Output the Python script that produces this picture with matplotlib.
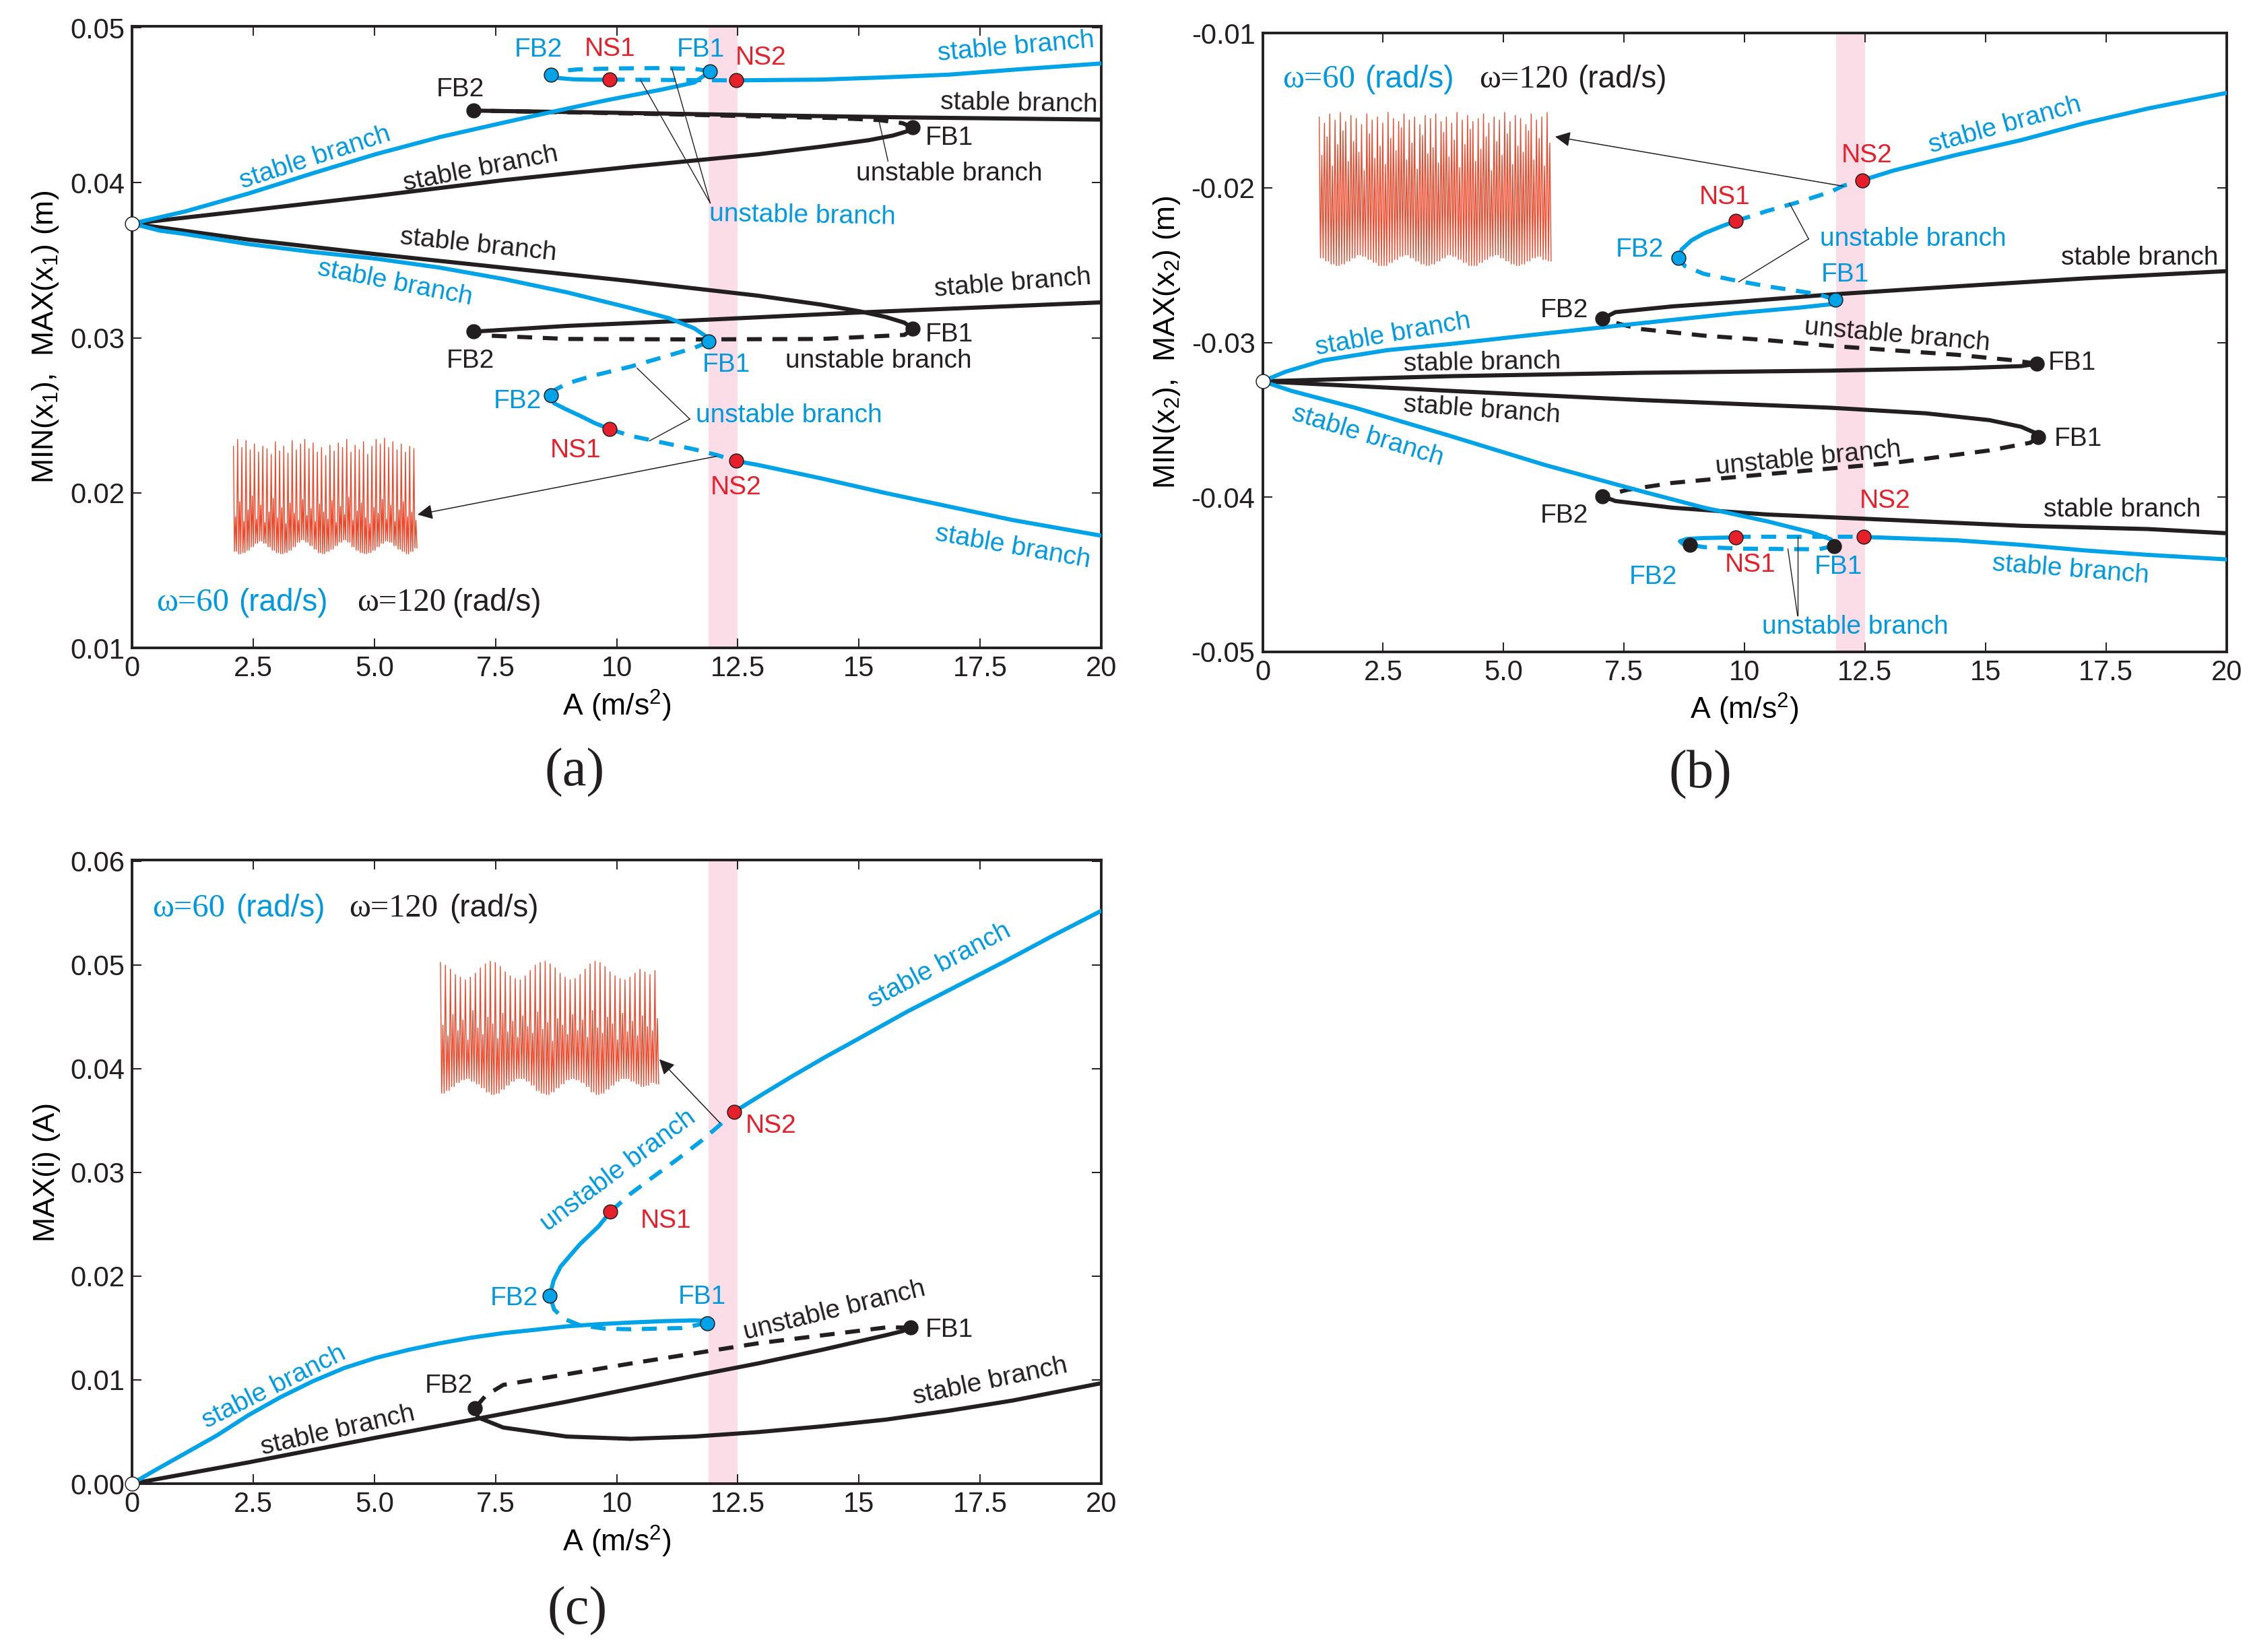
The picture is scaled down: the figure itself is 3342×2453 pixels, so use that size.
import numpy as np
import matplotlib
matplotlib.use('Agg')
import matplotlib.pyplot as plt

plt.rcParams['font.family'] = ['Liberation Sans', 'DejaVu Sans']
plt.rcParams['mathtext.default'] = 'regular'

BLUE = '#00a3e8'
BLUE_T = '#0098de'
RED = '#e6202b'
BLACK = '#231f20'
PINK = '#fbdde8'
SIG = '#f0482a'
SERIF = ['Liberation Serif', 'DejaVu Serif']

# ---------------- common ----------------
x_ticks = [0, 2.5, 5, 7.5, 10, 12.5, 15, 17.5, 20]
x_ticklabels = ['0', '2.5', '5.0', '7.5', '10', '12.5', '15', '17.5', '20']
band = [11.9, 12.5]

# ---------------- panel (a): MIN/MAX x1 ----------------
a_start = [0.0, 0.03737]
# omega = 60 (blue), upper (max)
a_bu_s1_A = [0, 1.09, 2.4, 3.72, 5.03, 6.35, 7.66, 8.58, 9.76, 10.95, 11.6, 11.93]
a_bu_s1_y = [0.03737, 0.03815, 0.03931, 0.04061, 0.04185, 0.04295, 0.04388, 0.04452, 0.04531, 0.04603, 0.04647, 0.04719]
a_bu_u1_A = [11.93, 11.6, 10.8, 10.0, 9.2, 8.8, 8.65]
a_bu_u1_y = [0.04719, 0.04736, 0.0474, 0.04738, 0.04732, 0.0472, 0.04698]
a_bu_s2_A = [8.65, 8.8, 9.1, 9.5, 9.86]
a_bu_s2_y = [0.04698, 0.04676, 0.04668, 0.04665, 0.04666]
a_bu_u2_A = [9.86, 12.46]
a_bu_u2_y = [0.04666, 0.04661]
a_bu_s3_A = [12.46, 14.23, 15.5, 16.86, 18.2, 20]
a_bu_s3_y = [0.04661, 0.04666, 0.0468, 0.04698, 0.0473, 0.0477]
# omega = 60 (blue), lower (min)
a_bl_s1_A = [0, 0.57, 1.09, 2.4, 3.72, 5.03, 6.35, 7.66, 8.97, 10.29, 11.08, 11.6, 11.87, 11.9]
a_bl_s1_y = [0.03737, 0.03692, 0.0367, 0.03605, 0.03554, 0.03511, 0.03453, 0.0338, 0.03294, 0.03192, 0.03127, 0.03062, 0.03004, 0.02975]
a_bl_u1_A = [11.9, 11.6, 10.95, 10.29, 9.5, 8.97, 8.7, 8.65]
a_bl_u1_y = [0.02975, 0.02935, 0.02875, 0.02815, 0.02755, 0.02705, 0.0266, 0.02628]
a_bl_s2_A = [8.65, 8.71, 8.95, 9.24, 9.55, 9.86]
a_bl_s2_y = [0.02628, 0.02578, 0.0254, 0.02498, 0.0245, 0.02411]
a_bl_u2_A = [9.86, 10.29, 10.95, 11.6, 12.06, 12.46]
a_bl_u2_y = [0.02411, 0.02368, 0.02324, 0.02281, 0.02245, 0.02206]
a_bl_s3_A = [12.46, 12.92, 14.23, 15.55, 16.86, 18.17, 20]
a_bl_s3_y = [0.02206, 0.0218, 0.02093, 0.01999, 0.01912, 0.01825, 0.01724]
# omega = 120 (black), upper
a_ku_s1_A = [0, 2.4, 5.03, 7.66, 10.29, 12.92, 14.23, 15.2, 15.7, 16.0, 16.11]
a_ku_s1_y = [0.03737, 0.03822, 0.03916, 0.04017, 0.04104, 0.04184, 0.04234, 0.04275, 0.04305, 0.04333, 0.04357]
a_ku_u1_A = [16.11, 15.9, 15.41, 14.5, 13.0, 11.0, 9.0, 7.04]
a_ku_u1_y = [0.04357, 0.04385, 0.04405, 0.04418, 0.04428, 0.04443, 0.04455, 0.04466]
a_ku_s2_A = [7.04, 10, 13, 16, 20]
a_ku_s2_y = [0.04466, 0.04452, 0.04436, 0.04422, 0.04408]
# omega = 120 (black), lower
a_kl_s1_A = [0, 2.4, 5.03, 7.66, 10.29, 12.92, 14.23, 15.02, 15.55, 15.94, 16.11]
a_kl_s1_y = [0.03737, 0.03634, 0.0354, 0.03453, 0.03366, 0.03272, 0.03214, 0.03171, 0.03135, 0.03098, 0.03059]
a_kl_u1_A = [16.11, 15.94, 14.23, 11.6, 8.97, 7.4, 7.04]
a_kl_u1_y = [0.03059, 0.03019, 0.02993, 0.0299, 0.02993, 0.03014, 0.0304]
a_kl_s2_A = [7.04, 8.97, 11.6, 15.02, 20]
a_kl_s2_y = [0.0304, 0.03077, 0.03113, 0.03164, 0.03229]
# bifurcation points (A, y)
a_fb_blue = [(11.93, 0.04719), (8.65, 0.04698), (11.9, 0.02975), (8.65, 0.02628)]
a_fb_black = [(16.11, 0.04357), (7.04, 0.04466), (16.11, 0.03059), (7.04, 0.0304)]
a_ns = [(9.86, 0.04666), (12.46, 0.04661), (9.86, 0.02411), (12.46, 0.02206)]

# ---------------- panel (b): MIN/MAX x2 ----------------
b_start = [0.0, -0.03251]
b_bu_s1_A = [0, 0.47, 1.26, 2.58, 3.89, 5.87, 7.84, 9.82, 11.13, 11.79, 11.88]
b_bu_s1_y = [-0.03251, -0.0319, -0.03116, -0.0305, -0.0301, -0.02942, -0.02876, -0.02811, -0.02775, -0.02753, -0.02724]
b_bu_u1_A = [11.88, 11.53, 10.47, 9.82, 9.16, 8.76, 8.63]
b_bu_u1_y = [-0.02724, -0.02688, -0.02637, -0.026, -0.02557, -0.02506, -0.02452]
b_bu_s2_A = [8.63, 8.7, 8.9, 9.16, 9.5, 9.82]
b_bu_s2_y = [-0.02452, -0.02397, -0.0234, -0.02295, -0.02252, -0.02215]
b_bu_u2_A = [9.82, 10.47, 11.13, 11.79, 12.05, 12.45]
b_bu_u2_y = [-0.02215, -0.0215, -0.02092, -0.02026, -0.01987, -0.01951]
b_bu_s3_A = [12.45, 13.1, 14.42, 15.74, 17.05, 18.37, 20]
b_bu_s3_y = [-0.01951, -0.01888, -0.01786, -0.01692, -0.01583, -0.01488, -0.01387]
b_bl_s1_A = [0, 0.6, 1.92, 3.89, 5.87, 7.84, 9.16, 10.47, 11.39, 11.79, 11.86]
b_bl_s1_y = [-0.03251, -0.03313, -0.03422, -0.03604, -0.03793, -0.0396, -0.04068, -0.04156, -0.04228, -0.04272, -0.04316]
b_bl_u1_A = [11.86, 11.53, 10.0, 9.16, 8.87]
b_bl_u1_y = [-0.04316, -0.04337, -0.04333, -0.04323, -0.04308]
b_bl_s2_A = [8.87, 8.72, 8.66, 8.8, 9.16, 9.82]
b_bl_s2_y = [-0.04308, -0.04302, -0.04285, -0.0427, -0.04264, -0.0426]
b_bl_u2_A = [9.82, 12.47]
b_bl_u2_y = [-0.04257, -0.04257]
b_bl_s3_A = [12.47, 13.1, 14.42, 15.74, 17.05, 18.37, 20]
b_bl_s3_y = [-0.04257, -0.04264, -0.04279, -0.04308, -0.04344, -0.04373, -0.04402]
b_ku_s1_A = [0, 3.89, 7.84, 11.79, 14.42, 15.74, 16.07]
b_ku_s1_y = [-0.03251, -0.03218, -0.03196, -0.03182, -0.03167, -0.03153, -0.03138]
b_ku_u1_A = [16.07, 15.6, 14.42, 13.1, 11.79, 10.47, 9.16, 7.84, 7.45, 7.05]
b_ku_u1_y = [-0.03138, -0.03116, -0.0308, -0.03051, -0.03022, -0.02985, -0.02956, -0.02913, -0.02884, -0.02847]
b_ku_s2_A = [7.05, 7.32, 8.5, 9.82, 11.79, 14.42, 17.05, 20]
b_ku_s2_y = [-0.02847, -0.02804, -0.02767, -0.02738, -0.0269, -0.02637, -0.02586, -0.02539]
b_kl_s1_A = [0, 3.89, 7.84, 11.79, 13.76, 15.08, 15.74, 16.0, 16.09]
b_kl_s1_y = [-0.03251, -0.03313, -0.03372, -0.03422, -0.03458, -0.03502, -0.03545, -0.0358, -0.03611]
b_kl_u1_A = [16.09, 15.93, 15.08, 13.1, 10.47, 8.5, 7.58, 7.05]
b_kl_u1_y = [-0.03611, -0.03648, -0.03698, -0.03778, -0.03851, -0.03908, -0.03952, -0.03993]
b_kl_s2_A = [7.05, 7.32, 8.5, 10.47, 13.1, 15.74, 18.37, 20]
b_kl_s2_y = [-0.03993, -0.04025, -0.04068, -0.04112, -0.04148, -0.04185, -0.04206, -0.04233]
b_fb_blue = [(11.88, -0.02724), (8.63, -0.02452)]
b_fb_black = [(16.07, -0.03138), (7.05, -0.02847), (16.09, -0.03611), (7.05, -0.03993),
              (11.86, -0.04316), (8.87, -0.04308)]
b_ns = [(9.82, -0.02215), (12.45, -0.01951), (9.82, -0.0426), (12.47, -0.04257)]

# ---------------- panel (c): MAX(i) ----------------
c_start = [0.0, 0.0]
c_b_s1_A = [0, 0.43, 1.09, 1.75, 2.4, 3.06, 3.72, 4.38, 5.03, 5.69, 6.35, 7.0, 7.66, 8.32, 8.97, 9.63, 10.29, 10.95, 11.6, 11.87]
c_b_s1_y = [0, 0.00118, 0.00291, 0.00465, 0.0066, 0.00833, 0.00985, 0.01115, 0.01212, 0.01288, 0.01353, 0.01407,
            0.01451, 0.01483, 0.01516, 0.01537, 0.01553, 0.01566, 0.01574, 0.0157]
c_b_u1_A = [11.87, 11.34, 10.29, 9.76, 9.24, 8.91, 8.71, 8.62]
c_b_u1_y = [0.01548, 0.015, 0.01488, 0.01494, 0.01527, 0.0159, 0.01678, 0.01813]
c_b_s2_A = [8.62, 8.7, 8.84, 9.24, 9.63, 9.87]
c_b_s2_y = [0.01813, 0.0196, 0.0209, 0.02307, 0.02481, 0.02621]
c_b_u2_A = [9.87, 10.29, 10.75, 11.25, 11.75, 12.1, 12.43]
c_b_u2_y = [0.02621, 0.02795, 0.02955, 0.03125, 0.03305, 0.03445, 0.03585]
c_b_s3_A = [12.43, 13.0, 13.6, 14.3, 15.0, 16.0, 17.0, 18.0, 19.0, 20.0]
c_b_s3_y = [0.03585, 0.0375, 0.0392, 0.0411, 0.0429, 0.0455, 0.0479, 0.0503, 0.0528, 0.0552]
c_k_s1_A = [0, 2.4, 5.03, 7.07, 8.97, 11.6, 12.92, 14.23, 15.55, 15.9, 16.07]
c_k_s1_y = [0, 0.00205, 0.00443, 0.00621, 0.0079, 0.01039, 0.01159, 0.01289, 0.0143, 0.0147, 0.01505]
c_k_u1_A = [16.07, 15.55, 12.92, 10.29, 7.66, 7.3, 7.07]
c_k_u1_y = [0.01505, 0.01505, 0.01353, 0.01158, 0.00952, 0.0085, 0.00725]
c_k_s2_A = [7.07, 7.14, 7.66, 8.97, 10.29, 11.6, 12.92, 14.23, 15.55, 16.86, 18.17, 20]
c_k_s2_y = [0.00725, 0.00638, 0.00541, 0.00454, 0.00432, 0.00454, 0.00497, 0.00552, 0.00617, 0.00703, 0.00801, 0.00968]
c_fb_blue = [(11.87, 0.01548), (8.62, 0.01813)]
c_fb_black = [(16.07, 0.01505), (7.07, 0.00725)]
c_ns = [(9.87, 0.02621), (12.43, 0.03585)]

# ---------------- inset time signals (normalised peaks / troughs) ----------------
sig_a_hi = [0.93, 0.99, 0.92, 0.98, 0.90, 0.95, 0.88, 0.93, 0.91, 0.86, 0.97, 0.89, 0.93, 0.87, 0.98, 0.90, 0.95,
            0.99, 0.91, 0.96, 0.88, 0.92, 0.85, 0.94, 0.89, 0.96, 0.92, 0.99, 0.88, 0.94, 0.90, 0.97, 0.86, 0.93,
            0.99, 0.95, 1.00, 0.92, 0.97, 0.90, 0.95, 0.88, 0.93, 0.91]
sig_a_lo = [0.02, 0.00, 0.01, 0.03, 0.06, 0.09, 0.11, 0.09, 0.06, 0.03, 0.01, 0.00, 0.01, 0.03, 0.06, 0.10, 0.12,
            0.10, 0.07, 0.04, 0.01, 0.00, 0.02, 0.04, 0.07, 0.10, 0.12, 0.10, 0.06, 0.03, 0.01, 0.00, 0.01, 0.03,
            0.06, 0.09, 0.11, 0.10, 0.07, 0.04, 0.02, 0.00, 0.02, 0.05]
sig_a_mid = [0.32, 0.45, 0.28, 0.38, 0.50, 0.30, 0.42, 0.27, 0.36, 0.48, 0.31, 0.40, 0.26, 0.44, 0.35, 0.29, 0.47,
             0.33, 0.39, 0.28, 0.43, 0.36, 0.30, 0.46, 0.27, 0.41, 0.34, 0.49, 0.29, 0.37, 0.44, 0.31, 0.26, 0.40,
             0.35, 0.47, 0.30, 0.42, 0.28, 0.38, 0.45, 0.32, 0.36, 0.29]
sig_b_hi = [0.97, 0.93, 0.99, 0.95, 1.00, 0.94, 0.98, 0.96, 0.92, 0.99, 0.95, 0.97, 0.93, 1.00, 0.96, 0.94, 0.99,
            0.95, 0.97, 0.92, 0.98, 0.96, 0.99, 0.94, 0.97, 0.93, 1.00, 0.95, 0.98, 0.94, 0.96, 0.99, 0.93, 0.97,
            0.95, 1.00, 0.94, 0.98, 0.96, 0.92, 0.99, 0.95, 0.97, 1.00]
sig_b_lo = [0.05, 0.03, 0.01, 0.00, 0.01, 0.03, 0.05, 0.07, 0.06, 0.04, 0.02, 0.00, 0.00, 0.02, 0.04, 0.06, 0.07,
            0.05, 0.03, 0.01, 0.00, 0.01, 0.03, 0.05, 0.07, 0.06, 0.04, 0.02, 0.00, 0.00, 0.02, 0.04, 0.06, 0.07,
            0.05, 0.03, 0.01, 0.00, 0.01, 0.03, 0.05, 0.06, 0.04, 0.03]
sig_b_mid = [0.72, 0.84, 0.65, 0.79, 0.88, 0.68, 0.81, 0.74, 0.62, 0.86, 0.70, 0.78, 0.66, 0.83, 0.75, 0.90, 0.69,
             0.80, 0.63, 0.85, 0.73, 0.77, 0.67, 0.87, 0.71, 0.82, 0.64, 0.79, 0.89, 0.68, 0.76, 0.84, 0.62, 0.81,
             0.72, 0.86, 0.66, 0.78, 0.74, 0.88, 0.69, 0.83, 0.65, 0.80]
sig_c_hi = [0.99, 0.97, 0.94, 0.90, 0.88, 0.86, 0.88, 0.91, 0.95, 0.98, 1.00, 0.99, 0.96, 0.92, 0.89, 0.87, 0.86,
            0.89, 0.93, 0.97, 0.99, 1.00, 0.98, 0.95, 0.91, 0.88, 0.86, 0.87, 0.90, 0.94, 0.98, 1.00, 0.99, 0.96,
            0.92, 0.89, 0.87, 0.86, 0.88, 0.91, 0.94, 0.92, 0.90, 0.93]
sig_c_lo = [0.01, 0.03, 0.06, 0.09, 0.11, 0.12, 0.10, 0.08, 0.05, 0.02, 0.00, 0.01, 0.04, 0.07, 0.10, 0.12, 0.12,
            0.10, 0.07, 0.03, 0.01, 0.00, 0.02, 0.05, 0.08, 0.11, 0.12, 0.11, 0.09, 0.06, 0.02, 0.00, 0.01, 0.04,
            0.07, 0.10, 0.12, 0.12, 0.10, 0.08, 0.06, 0.07, 0.09, 0.08]
sig_c_mid = [0.52, 0.44, 0.60, 0.48, 0.56, 0.41, 0.63, 0.50, 0.45, 0.58, 0.53, 0.42, 0.61, 0.47, 0.55, 0.43, 0.59,
             0.51, 0.46, 0.62, 0.49, 0.54, 0.40, 0.57, 0.52, 0.45, 0.60, 0.48, 0.56, 0.43, 0.63, 0.50, 0.46, 0.58,
             0.53, 0.41, 0.61, 0.47, 0.55, 0.44, 0.59, 0.51, 0.48, 0.57]

# ---------------- drawing helpers ----------------
LW = 4.4
DASH = (0, (3.6, 2.6))
MS = 15


def seg(ax, A, y, color, dashed=False):
    ax.plot(A, y, color=color, lw=LW, ls=DASH if dashed else '-',
            solid_capstyle='round', solid_joinstyle='round', dash_capstyle='butt', zorder=3)


def dots(ax, pts, face):
    for (px, py) in pts:
        ax.plot(px, py, 'o', mfc=face, mec=BLACK, mew=1.1, ms=MS, zorder=6)


def lab(ax, s, x, y, color, rot=0, size=28):
    ax.text(x, y, s, color=color, fontsize=size, rotation=rot, ha='center', va='center',
            rotation_mode='anchor', zorder=7)


def leader(ax, origin, targets):
    for t in targets:
        ax.plot([origin[0], t[0]], [origin[1], t[1]], color=BLACK, lw=1.0, zorder=4)


def arrow(ax, start, end):
    ax.annotate('', xy=end, xytext=start,
                arrowprops=dict(arrowstyle='-|>', color=BLACK, lw=1.1, mutation_scale=34,
                                shrinkA=0, shrinkB=0), zorder=8)


def inset_signal(ax, bounds, hi, lo, mid):
    ins = ax.inset_axes(bounds, transform=ax.transData)
    ys = np.column_stack([hi, lo, mid, lo]).ravel()
    ins.plot(np.arange(len(ys)), ys, color=SIG, lw=1.0)
    ins.set_xlim(-0.5, len(ys) - 0.5)
    ins.set_ylim(-0.01, 1.01)
    ins.axis('off')
    ins.patch.set_alpha(0)


def omega(ax, y, xs):
    ax.text(xs[0], y, 'ω=60', color=BLUE_T, fontsize=35, family=SERIF, ha='left', va='center', zorder=7)
    ax.text(xs[1], y, '(rad/s)', color=BLUE_T, fontsize=33, ha='left', va='center', zorder=7)
    ax.text(xs[2], y, 'ω=120', color=BLACK, fontsize=35, family=SERIF, ha='left', va='center', zorder=7)
    ax.text(xs[3], y, '(rad/s)', color=BLACK, fontsize=33, ha='left', va='center', zorder=7)


def style(ax, ylim, yticks, yticklabels, ylabel):
    ax.set_xlim(0, 20)
    ax.set_ylim(*ylim)
    ax.set_xticks(x_ticks)
    ax.set_xticklabels(x_ticklabels)
    ax.set_yticks(yticks)
    ax.set_yticklabels(yticklabels)
    ax.tick_params(direction='in', top=True, right=True, length=10, width=1.4,
                   labelsize=30, pad=8, colors=BLACK)
    for sp in ax.spines.values():
        sp.set_linewidth(2.8)
        sp.set_color(BLACK)
    ax.set_xlabel('A (m/s$^{2}$)', fontsize=32, labelpad=6)
    ax.set_ylabel(ylabel, fontsize=32, labelpad=10)
    ax.axvspan(band[0], band[1], color=PINK, lw=0, zorder=1)


fig = plt.figure(figsize=(33.42, 24.53), dpi=100)
axa = fig.add_axes([0.0587, 0.6078, 0.4305, 0.3763])
axb = fig.add_axes([0.5609, 0.6054, 0.4282, 0.3746])
axc = fig.add_axes([0.0587, 0.1019, 0.4305, 0.3775])

# ================= panel (a) =================
ax = axa
style(ax, (0.01, 0.0501), [0.01, 0.02, 0.03, 0.04, 0.05], ['0.01', '0.02', '0.03', '0.04', '0.05'],
      'MIN(x$_{1}$),  MAX(x$_{1}$) (m)')
seg(ax, a_ku_s1_A, a_ku_s1_y, BLACK)
seg(ax, a_ku_s2_A, a_ku_s2_y, BLACK)
seg(ax, a_ku_u1_A, a_ku_u1_y, BLACK, True)
seg(ax, a_kl_s1_A, a_kl_s1_y, BLACK)
seg(ax, a_kl_s2_A, a_kl_s2_y, BLACK)
seg(ax, a_kl_u1_A, a_kl_u1_y, BLACK, True)
seg(ax, a_bu_s1_A, a_bu_s1_y, BLUE)
seg(ax, a_bu_u1_A, a_bu_u1_y, BLUE, True)
seg(ax, a_bu_s2_A, a_bu_s2_y, BLUE)
seg(ax, a_bu_u2_A, a_bu_u2_y, BLUE, True)
seg(ax, a_bu_s3_A, a_bu_s3_y, BLUE)
seg(ax, a_bl_s1_A, a_bl_s1_y, BLUE)
seg(ax, a_bl_u1_A, a_bl_u1_y, BLUE, True)
seg(ax, a_bl_s2_A, a_bl_s2_y, BLUE)
seg(ax, a_bl_u2_A, a_bl_u2_y, BLUE, True)
seg(ax, a_bl_s3_A, a_bl_s3_y, BLUE)
dots(ax, a_fb_blue, BLUE)
dots(ax, a_fb_black, BLACK)
dots(ax, a_ns, RED)
ax.plot(*a_start, 'o', mfc='white', mec=BLACK, mew=1.1, ms=MS, zorder=9, clip_on=False)
inset_signal(ax, [2.08, 0.0160, 3.81, 0.0076], sig_a_hi, sig_a_lo, sig_a_mid)
arrow(ax, (12.06, 0.02236), (5.89, 0.0186))
leader(ax, (11.93, 0.0387), [(10.49, 0.04664), (11.14, 0.04738)])
leader(ax, (15.6, 0.0414), [(15.41, 0.04405)])
leader(ax, (11.51, 0.02476), [(10.42, 0.02805), (10.68, 0.02336)])
for s, x, y, c, r in [
    ('FB2', 8.38, 0.04857, BLUE_T, 0), ('NS1', 9.86, 0.04864, RED, 0), ('FB1', 11.73, 0.0486, BLUE_T, 0),
    ('NS2', 12.98, 0.04806, RED, 0), ('stable branch', 18.24, 0.04878, BLUE_T, 5),
    ('FB2', 6.77, 0.04603, BLACK, 0), ('stable branch', 18.3, 0.04509, BLACK, -1),
    ('FB1', 16.86, 0.0429, BLACK, 0), ('unstable branch', 16.86, 0.0406, BLACK, 0),
    ('stable branch', 3.78, 0.04159, BLUE_T, 18), ('stable branch', 7.2, 0.0409, BLACK, 11),
    ('unstable branch', 13.84, 0.03786, BLUE_T, -1), ('stable branch', 7.14, 0.03598, BLACK, -6),
    ('stable branch', 5.43, 0.03352, BLUE_T, -11), ('stable branch', 18.17, 0.03352, BLACK, 4.5),
    ('FB1', 16.86, 0.03019, BLACK, 0), ('FB2', 6.98, 0.02852, BLACK, 0), ('FB1', 12.26, 0.02824, BLUE_T, 0),
    ('unstable branch', 15.41, 0.02852, BLACK, 0), ('FB2', 7.95, 0.0259, BLUE_T, 0),
    ('unstable branch', 13.55, 0.025, BLUE_T, 0), ('NS1', 9.15, 0.02273, RED, 0),
    ('NS2', 12.46, 0.02034, RED, 0), ('stable branch', 18.17, 0.01651, BLUE_T, -10)]:
    lab(ax, s, x, y, c, r)
omega(ax, 0.0129, [0.5, 2.2, 4.64, 6.6])

# ================= panel (b) =================
ax = axb
style(ax, (-0.05, -0.01), [-0.05, -0.04, -0.03, -0.02, -0.01], ['-0.05', '-0.04', '-0.03', '-0.02', '-0.01'],
      'MIN(x$_{2}$),  MAX(x$_{2}$) (m)')
seg(ax, b_ku_s1_A, b_ku_s1_y, BLACK)
seg(ax, b_ku_u1_A, b_ku_u1_y, BLACK, True)
seg(ax, b_ku_s2_A, b_ku_s2_y, BLACK)
seg(ax, b_kl_s1_A, b_kl_s1_y, BLACK)
seg(ax, b_kl_u1_A, b_kl_u1_y, BLACK, True)
seg(ax, b_kl_s2_A, b_kl_s2_y, BLACK)
seg(ax, b_bu_s1_A, b_bu_s1_y, BLUE)
seg(ax, b_bu_u1_A, b_bu_u1_y, BLUE, True)
seg(ax, b_bu_s2_A, b_bu_s2_y, BLUE)
seg(ax, b_bu_u2_A, b_bu_u2_y, BLUE, True)
seg(ax, b_bu_s3_A, b_bu_s3_y, BLUE)
seg(ax, b_bl_s1_A, b_bl_s1_y, BLUE)
seg(ax, b_bl_u1_A, b_bl_u1_y, BLUE, True)
seg(ax, b_bl_s2_A, b_bl_s2_y, BLUE)
seg(ax, b_bl_u2_A, b_bl_u2_y, BLUE, True)
seg(ax, b_bl_s3_A, b_bl_s3_y, BLUE)
dots(ax, b_fb_blue, BLUE)
dots(ax, b_fb_black, BLACK)
dots(ax, b_ns, RED)
ax.plot(*b_start, 'o', mfc='white', mec=BLACK, mew=1.1, ms=MS, zorder=9, clip_on=False)
inset_signal(ax, [1.16, -0.02513, 4.84, 0.0101], sig_b_hi, sig_b_lo, sig_b_mid)
arrow(ax, (12.05, -0.0199), (6.07, -0.0167))
leader(ax, (11.33, -0.02331), [(10.93, -0.02099), (9.88, -0.02608)])
leader(ax, (11.1, -0.04766), [(10.9, -0.04335), (11.1, -0.04257)])
for s, x, y, c, r in [
    ('NS2', 12.54, -0.01794, RED, 0), ('stable branch', 15.4, -0.01597, BLUE_T, 15.5),
    ('NS1', 9.59, -0.02062, RED, 0), ('unstable branch', 13.5, -0.02331, BLUE_T, 0),
    ('FB2', 7.82, -0.0240, BLUE_T, 0), ('FB1', 12.08, -0.02564, BLUE_T, 0),
    ('stable branch', 18.2, -0.02455, BLACK, 0), ('FB2', 6.26, -0.02794, BLACK, 0),
    ('stable branch', 2.71, -0.02949, BLUE_T, 10), ('unstable branch', 13.17, -0.02956, BLACK, -5),
    ('stable branch', 4.55, -0.03131, BLACK, 1), ('FB1', 16.79, -0.03131, BLACK, 0),
    ('stable branch', 4.55, -0.03436, BLACK, -4), ('stable branch', 2.18, -0.03604, BLUE_T, -17),
    ('FB1', 16.92, -0.03626, BLACK, 0), ('unstable branch', 11.33, -0.0375, BLACK, 5.5),
    ('NS2', 12.91, -0.04025, RED, 0), ('FB2', 6.26, -0.0412, BLACK, 0),
    ('stable branch', 17.84, -0.04083, BLACK, 0), ('NS1', 10.12, -0.04439, RED, 0),
    ('FB1', 11.95, -0.04453, BLUE_T, 0), ('FB2', 8.1, -0.04519, BLUE_T, 0),
    ('stable branch', 16.76, -0.04468, BLUE_T, -4.5), ('unstable branch', 12.29, -0.04839, BLUE_T, 0)]:
    lab(ax, s, x, y, c, r)
omega(ax, -0.013, [0.41, 2.12, 4.49, 6.53])

# ================= panel (c) =================
ax = axc
style(ax, (0.0, 0.0601), [0, 0.01, 0.02, 0.03, 0.04, 0.05, 0.06],
      ['0.00', '0.01', '0.02', '0.03', '0.04', '0.05', '0.06'], 'MAX(i) (A)')
seg(ax, c_k_s1_A, c_k_s1_y, BLACK)
seg(ax, c_k_u1_A, c_k_u1_y, BLACK, True)
seg(ax, c_k_s2_A, c_k_s2_y, BLACK)
seg(ax, c_b_s1_A, c_b_s1_y, BLUE)
seg(ax, c_b_u1_A, c_b_u1_y, BLUE, True)
seg(ax, c_b_s2_A, c_b_s2_y, BLUE)
seg(ax, c_b_u2_A, c_b_u2_y, BLUE, True)
seg(ax, c_b_s3_A, c_b_s3_y, BLUE)
dots(ax, c_fb_blue, BLUE)
dots(ax, c_fb_black, BLACK)
dots(ax, c_ns, RED)
ax.plot(*c_start, 'o', mfc='white', mec=BLACK, mew=1.1, ms=MS, zorder=9, clip_on=False)
inset_signal(ax, [6.35, 0.03737, 4.53, 0.01311], sig_c_hi, sig_c_lo, sig_c_mid)
arrow(ax, (12.13, 0.03477), (10.88, 0.0409))
for s, x, y, c, r in [
    ('stable branch', 16.66, 0.04993, BLUE_T, 27.6), ('NS2', 13.18, 0.03445, RED, 0),
    ('unstable branch', 10.03, 0.03015, BLUE_T, 36.7), ('NS1', 11.01, 0.02534, RED, 0),
    ('FB2', 7.88, 0.01787, BLUE_T, 0), ('FB1', 11.76, 0.01798, BLUE_T, 0),
    ('unstable branch', 14.49, 0.01667, BLACK, 13.8), ('FB1', 16.86, 0.01483, BLACK, 0),
    ('FB2', 6.54, 0.00942, BLACK, 0), ('stable branch', 2.93, 0.00931, BLUE_T, 26.6),
    ('stable branch', 4.24, 0.00508, BLACK, 12.8), ('stable branch', 17.71, 0.00985, BLACK, 11.8)]:
    lab(ax, s, x, y, c, r)
omega(ax, 0.05546, [0.41, 2.14, 4.48, 6.54])

# panel letters
fig.text(0.2553, 0.5324, '(a)', fontsize=58, family=SERIF, ha='center', va='center', color=BLACK)
fig.text(0.7552, 0.5312, '(b)', fontsize=58, family=SERIF, ha='center', va='center', color=BLACK)
fig.text(0.2564, 0.0245, '(c)', fontsize=58, family=SERIF, ha='center', va='center', color=BLACK)

fig.savefig('out.png', dpi=100, facecolor='white')
